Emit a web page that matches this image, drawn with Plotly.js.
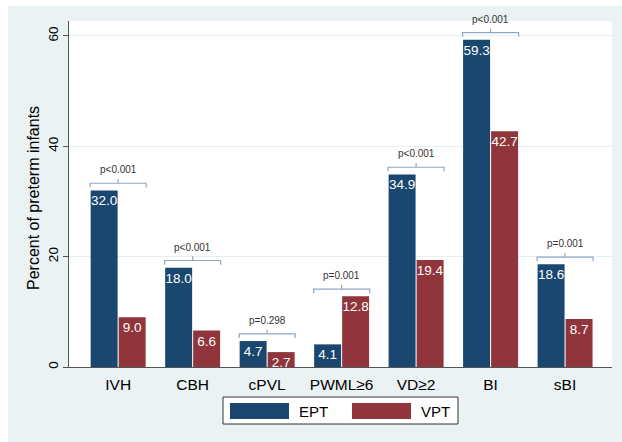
<!DOCTYPE html>
<html>
<head>
<meta charset="utf-8">
<script src="https://cdn.plot.ly/plotly-3.0.1.min.js"></script>
<style>
html,body{margin:0;padding:0;background:#ffffff;}
#chart{position:absolute;left:8px;top:6px;width:614px;height:436px;}
</style>
</head>
<body>
<div id="chart"></div>
<script>
const categories = ["IVH", "CBH", "cPVL", "PWML\u22656", "VD\u22652", "BI", "sBI"];
const seriesNames = ["EPT", "VPT"];
const eptValues = [32.0, 18.0, 4.7, 4.1, 34.9, 59.3, 18.6];
const vptValues = [9.0, 6.6, 2.7, 12.8, 19.4, 42.7, 8.7];
const pLabels = ["p<0.001", "p<0.001", "p=0.298", "p=0.001", "p<0.001", "p<0.001", "p=0.001"];
const yTicks = [0, 20, 40, 60];
const yTitle = "Percent of preterm infants";

const colEPT = "#1a476f";
const colVPT = "#90353b";
const idx = categories.map((c, i) => i);
const font = "Liberation Sans, Arial, sans-serif";
const yMax = 62.7;

// bracket geometry (offsets in axis units)
const half = 0.376, lift = 1.3, drop = 0.75, rise = 0.75, textLift = 2.4;
const bx = [], by = [];
const pAnn = [];
idx.forEach(i => {
  const m = Math.max(eptValues[i], vptValues[i]);
  const h = m + lift;
  bx.push(i - half, i - half, i, i, i, i + half, i + half, null);
  by.push(h - drop, h, h, h + rise, h, h, h - drop, null);
  pAnn.push({xref: "x", yref: "paper", x: i, y: (h + textLift) / yMax, text: pLabels[i], showarrow: false,
             xanchor: "center", yanchor: "middle", font: {size: 10, color: "#333333", family: font}});
});

const barText = {color: "#ffffff", size: 13.5, family: font};
const traces = [
  {type: "bar", x: idx, y: eptValues, name: seriesNames[0], marker: {color: colEPT},
   texttemplate: "%{y:.1f}", textposition: "inside", insidetextanchor: "end", textangle: 0,
   constraintext: "none", textfont: barText, hoverinfo: "y"},
  {type: "bar", x: idx, y: vptValues, name: seriesNames[1], marker: {color: colVPT},
   texttemplate: "%{y:.1f}", textposition: "inside", insidetextanchor: "end", textangle: 0,
   constraintext: "none", textfont: barText, hoverinfo: "y"},
  {type: "scatter", mode: "lines", x: bx, y: by, line: {color: "#8ea7c8", width: 1.2},
   hoverinfo: "skip", showlegend: false, cliponaxis: false}
];

const W = 614, H = 436, mL = 61, mR = 10, mT = 15, mB = 75;
const pw = W - mL - mR, ph = H - mT - mB;
const px = v => (v - mL) / pw;
const py = v => (H - mB - v) / ph;

const layout = {
  width: W, height: H,
  margin: {l: mL, r: mR, t: mT, b: mB, pad: 0},
  paper_bgcolor: "#eaf2f3",
  plot_bgcolor: "#ffffff",
  font: {family: font, color: "#000000"},
  showlegend: false,
  barmode: "group",
  bargap: 0.248,
  bargroupgap: 0.037,
  xaxis: {
    range: [-0.66, 6.63], tickmode: "array", tickvals: idx, ticktext: categories,
    showgrid: false, zeroline: false, showline: true, linecolor: "#555555", linewidth: 1,
    ticks: "", ticklabelstandoff: 3, tickfont: {size: 15.5, color: "#000000"}, fixedrange: true
  },
  yaxis: {
    range: [0, yMax], tickmode: "array", tickvals: yTicks, ticktext: yTicks.map(String),
    tickangle: -90, ticks: "outside", ticklen: 5, tickcolor: "#555555",
    showgrid: true, gridcolor: "#e6eef0", gridwidth: 1, zeroline: false,
    showline: true, linecolor: "#555555", linewidth: 1,
    tickfont: {size: 13.5, color: "#000000"}
  },
  shapes: [
    {type: "rect", xref: "paper", yref: "paper", x0: px(215), x1: px(450), y0: py(418), y1: py(391),
     fillcolor: "#ffffff", line: {color: "#333333", width: 1}},
    {type: "rect", xref: "paper", yref: "paper", x0: px(222), x1: px(281), y0: py(413), y1: py(397),
     fillcolor: colEPT, line: {width: 0}},
    {type: "rect", xref: "paper", yref: "paper", x0: px(344), x1: px(403), y0: py(413), y1: py(397),
     fillcolor: colVPT, line: {width: 0}}
  ],
  annotations: pAnn.concat([
    {xref: "paper", yref: "paper", x: px(289), y: py(405), xanchor: "left", yanchor: "middle",
     text: seriesNames[0], showarrow: false, font: {size: 15, color: "#000000"}},
    {xref: "paper", yref: "paper", x: px(411), y: py(405), xanchor: "left", yanchor: "middle",
     text: seriesNames[1], showarrow: false, font: {size: 15, color: "#000000"}},
    {xref: "paper", yref: "paper", x: px(25), y: py(192), xanchor: "center", yanchor: "middle",
     textangle: -90, text: yTitle, showarrow: false, font: {size: 16, color: "#000000"}}
  ])
};

Plotly.newPlot("chart", traces, layout, {displayModeBar: false, staticPlot: true});
</script>
</body>
</html>
